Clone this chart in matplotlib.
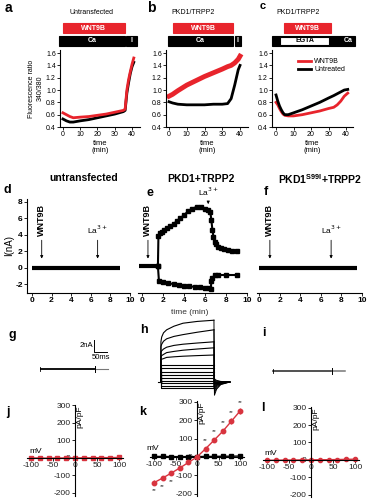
import matplotlib
matplotlib.use("Agg")
import matplotlib.pyplot as plt
from matplotlib.patches import Rectangle
from matplotlib.transforms import blended_transform_factory

plt.rcParams['font.family'] = ['Liberation Sans', 'DejaVu Sans']
plt.rcParams['axes.unicode_minus'] = False

# ---- data: fluorescence ratio traces (a-c) ----
a_t = [0, 2, 4, 6, 10, 15, 20, 25, 30, 35, 36, 37, 38, 39, 40, 41]
a_ctrl = [0.53, 0.5, 0.48, 0.48, 0.5, 0.52, 0.55, 0.58, 0.61, 0.65, 0.67, 0.95, 1.12, 1.27, 1.38, 1.45]
a_wnt = [0.63, 0.6, 0.57, 0.55, 0.56, 0.57, 0.59, 0.61, 0.64, 0.67, 0.69, 1.0, 1.17, 1.3, 1.42, 1.52]

b_t = [0, 2, 5, 10, 15, 20, 25, 30, 33, 35, 37, 39, 40]
b_wnt = [0.9, 0.93, 0.99, 1.08, 1.15, 1.22, 1.28, 1.34, 1.38, 1.4, 1.44, 1.5, 1.55]
b_ctrl = [0.81, 0.79, 0.77, 0.76, 0.76, 0.76, 0.77, 0.77, 0.78, 0.86, 1.08, 1.33, 1.4]

c_t = [0, 1, 2, 3, 4, 5, 7, 10, 15, 20, 25, 30, 33, 35, 37, 39, 41]
c_ctrl = [0.92, 0.82, 0.74, 0.68, 0.63, 0.6, 0.6, 0.63, 0.68, 0.74, 0.8, 0.87, 0.91, 0.94, 0.97, 1.0, 1.01]
c_wnt = [0.8, 0.76, 0.7, 0.65, 0.61, 0.59, 0.58, 0.58, 0.6, 0.63, 0.66, 0.7, 0.72, 0.76, 0.82, 0.9, 0.95]

ratio_ticks = [0.4, 0.6, 0.8, 1.0, 1.2, 1.4, 1.6]
min_ticks = [0, 10, 20, 30, 40]

# ---- data: whole-cell current vs time (d-f) ----
d_t = [0, 9]
d_i = [0, 0]
f_t = [0, 9.5]
f_i = [0, 0]
e_base_t = [-0.3, 1.5]
e_base_i = [0.2, 0.2]
e_up_t = [1.5, 1.55, 1.7, 1.9, 2.1, 2.4, 2.7, 3.0, 3.3, 3.6, 4.0, 4.4, 4.8, 5.2, 5.6, 6.0,
          6.3, 6.5, 6.6, 6.7, 6.8, 6.9, 7.0, 7.2, 7.5, 7.8, 8.2, 8.6, 9.0]
e_up_i = [0.2, 3.9, 4.2, 4.4, 4.6, 4.8, 5.1, 5.3, 5.7, 6.0, 6.4, 6.9, 7.2, 7.4, 7.4, 7.2,
          7.0, 6.8, 5.8, 4.6, 3.8, 3.2, 2.9, 2.6, 2.4, 2.25, 2.15, 2.1, 2.1]
e_lo_t = [1.5, 1.6, 2.0, 2.5, 3.0, 3.5, 4.0, 4.5, 5.0, 5.5, 6.0, 6.4, 6.55, 6.6, 6.7, 6.9, 7.2, 8.0, 9.0]
e_lo_i = [0.2, -1.6, -1.75, -1.85, -1.95, -2.05, -2.15, -2.2, -2.3, -2.35, -2.4, -2.45, -2.5,
          -1.6, -1.2, -0.9, -0.85, -0.85, -0.85]
wnt_time = {'d': 1.0, 'e': 0.55, 'f': 1.05}
la_time = {'d': 6.7, 'e': 6.3, 'f': 7.0}
nA_ticks = [-2, 0, 2, 4, 6, 8]
t_ticks = [0, 2, 4, 6, 8, 10]

# ---- data: raw current traces (g-i), ms / nA ----
g_end, g_tick, i_end, i_tick = 262, 211, 277, 227
h_t = [0, 3, 10, 22, 50, 85, 140, 204]
h_curved = [
    [7.7, 8.5, 9.2, 9.7, 10.3, 10.8, 11.1, 11.3],
    [6.9, 7.3, 7.8, 8.2, 8.6, 8.9, 9.3, 9.7],
    [6.0, 6.2, 6.5, 6.8, 7.1, 7.3, 7.5, 7.7],
    [5.2, 5.4, 5.6, 5.9, 6.1, 6.3, 6.5, 6.7],
    [4.7, 4.8, 4.9, 5.1, 5.2, 5.3, 5.4, 5.5],
]
h_flat = [3.8, 3.3, 2.7, 2.2, 1.7, 1.2, 0.8, 0.3, 0.0]
h_hold = 1.0
h_tail_start = [-1.2, -0.8, -0.4, -0.1, 0.1, 0.3, 0.5, 0.6, 0.7, 0.8, 0.9, 1.1, 1.3, 1.5]
tail_t = [206, 214, 230, 265]
tail_frac = [1.0, 0.55, 0.2, 0.0]

# ---- data: I-V curves (j-l) ----
iv_v = [-100, -80, -60, -40, -20, 0, 20, 40, 60, 80, 100]
j_ctrl = [0, 0, -1, 0, 0, 0, 1, 1, 2, 2, 3]
k_wnt = [-140, -115, -88, -60, -30, 0, 45, 92, 140, 195, 250]
k_err = [15, 12, 10, 8, 6, 3, 8, 10, 12, 15, 18]
k_ctrl = [3, 3, 2, 2, 2, 2, 3, 3, 4, 4, 5]
l_mut = [-2, -2, -1, -1, 0, 0, 1, 1, 2, 3, 4]
k_star_v = [-100, -80, -60, 20, 40, 60, 80, 100]

W, H = 369, 500
fig = plt.figure(figsize=(W / 100, H / 100), dpi=100)
RED = '#e8242c'
IVRED = '#d8343f'


def px_axes(l, t, r, b):
    return fig.add_axes([l / W, 1 - b / H, (r - l) / W, (b - t) / H])


def ftext(x, y, s, **kw):
    fig.text(x / W, 1 - y / H, s, **kw)


def style_ax(ax, fs):
    ax.spines['top'].set_visible(False)
    ax.spines['right'].set_visible(False)
    for s in ax.spines.values():
        s.set_linewidth(0.8)
    ax.tick_params(labelsize=fs, length=2, width=0.6, pad=1)


def bar(ax, x0, x1, top, bot, fc, ec=None, label='', tc='white'):
    tr = blended_transform_factory(ax.transData, fig.transFigure)
    ax.add_patch(Rectangle((x0, 1 - bot / H), x1 - x0, (bot - top) / H, transform=tr,
                           facecolor=fc, edgecolor=ec or fc, linewidth=0.8, clip_on=False))
    if label:
        ax.text((x0 + x1) / 2, 1 - (top + bot) / 2 / H, label, transform=tr, ha='center',
                va='center', color=tc, fontsize=5, fontweight='bold')


# ---------- row 1: a, b, c ----------
def ratio_panel(l, r, x0, x1):
    ax = px_axes(l, 50, r, 127)
    ax.set_xlim(x0, x1)
    ax.set_ylim(0.4, 1.65)
    style_ax(ax, 5)
    ax.set_yticks(ratio_ticks)
    ax.set_yticklabels(['%.1f' % v for v in ratio_ticks])
    ax.set_xticks(min_ticks)
    ax.set_xlabel('time\n(min)', fontsize=5.5, labelpad=1, linespacing=1.1)
    return ax


axa = ratio_panel(60, 140, -1.7, 44.6)
axa.plot(a_t, a_ctrl, color='k', lw=2)
axa.plot(a_t, a_wnt, color=RED, lw=2)
axa.set_ylabel('Fluorescence ratio\n340/380', fontsize=5, labelpad=2, linespacing=1.3)
bar(axa, 0, 35.8, 23, 33, RED, label='WNT9B')
bar(axa, -2.3, 35.8, 36, 46, 'k', label='Ca')
bar(axa, 36.4, 42.8, 36, 46, 'k', label='I')

axb = ratio_panel(166, 248, -1.7, 44.5)
axb.plot(b_t, b_wnt, color=RED, lw=3.5)
axb.plot(b_t, b_ctrl, color='k', lw=2)
bar(axb, 2.3, 36, 23, 33, RED, label='WNT9B')
bar(axb, -0.7, 36, 36, 46, 'k', label='Ca')
bar(axb, 37, 40.5, 36, 46, 'k', label='I')

axc = ratio_panel(272, 353, -2.3, 44)
axc.plot(c_t, c_wnt, color=RED, lw=2, label='WNT9B')
axc.plot(c_t, c_ctrl, color='k', lw=2, label='Untreated')
axc.legend(frameon=False, fontsize=5, handlelength=1.8, handletextpad=0.5,
           labelspacing=0.2, loc='upper left', bbox_to_anchor=(0.27, 0.95), borderpad=0.1)
bar(axc, 4.6, 31.4, 23, 33, RED, label='WNT9B')
bar(axc, -2.3, 45, 36, 46, 'k')
bar(axc, 2.3, 30.3, 37.5, 44.5, 'white', ec='k', label='EGTA', tc='k')
bar(axc, 38, 44, 37.5, 44.5, 'k', label='Ca')

ftext(92, 13, 'Untransfected', fontsize=5, ha='center', va='center')
ftext(193, 13, 'PKD1/TRPP2', fontsize=5, ha='center', va='center')
ftext(298, 13, 'PKD1/TRPP2', fontsize=5, ha='center', va='center')
ftext(8, 8, 'a', fontsize=10, fontweight='bold', ha='center', va='center')
ftext(151, 8, 'b', fontsize=10, fontweight='bold', ha='center', va='center')
ftext(263, 6, 'c', fontsize=8, fontweight='bold', ha='center', va='center')


# ---------- row 2: d, e, f ----------
def current_panel(l, r, x0, key, show_y):
    ax = px_axes(l, 199, r, 293)
    ax.set_xlim(x0, 10)
    ax.set_ylim(-3.03, 8.36)
    style_ax(ax, 6)
    ax.set_xticks(t_ticks)
    if show_y:
        ax.set_yticks(nA_ticks)
        ax.set_ylabel('I(nA)', fontsize=7, labelpad=1)
    else:
        ax.spines['left'].set_visible(False)
        ax.set_yticks([])
    for lab in ax.get_xticklabels() + ax.get_yticklabels():
        lab.set_fontweight('bold')
    tw = wnt_time[key]
    ax.annotate('', xy=(tw, 0.8), xytext=(tw, 3.7),
                arrowprops=dict(arrowstyle='-|>', color='k', lw=0.6, mutation_scale=4))
    ax.text(tw, 3.9, 'WNT9B', rotation=90, ha='center', va='bottom', fontsize=6.5,
            fontweight='bold')
    return ax


axd = current_panel(27, 130, -0.5, 'd', True)
axd.plot(d_t, d_i, color='k', lw=3, solid_capstyle='butt')
axd.annotate('', xy=(la_time['d'], 0.8), xytext=(la_time['d'], 3.7),
             arrowprops=dict(arrowstyle='-|>', color='k', lw=0.6, mutation_scale=4))
axd.text(la_time['d'], 3.9, 'La$^{3+}$', ha='center', va='bottom', fontsize=6)

axe = current_panel(138, 247, -0.4, 'e', False)
axe.plot(e_base_t, e_base_i, color='k', lw=3, solid_capstyle='butt')
axe.plot(e_up_t, e_up_i, color='k', lw=1.5, marker='s', ms=2.5)
axe.plot(e_lo_t, e_lo_i, color='k', lw=1.5, marker='s', ms=2.5)
axe.annotate('', xy=(la_time['e'], 7.4), xytext=(la_time['e'], 8.4),
             arrowprops=dict(arrowstyle='-|>', color='k', lw=0.6, mutation_scale=4),
             annotation_clip=False)
axe.text(la_time['e'], 8.5, 'La$^{3+}$', ha='center', va='bottom', fontsize=6, clip_on=False)

axf = current_panel(257, 362, -0.2, 'f', False)
axf.plot(f_t, f_i, color='k', lw=3, solid_capstyle='butt')
axf.annotate('', xy=(la_time['f'], 0.8), xytext=(la_time['f'], 3.7),
             arrowprops=dict(arrowstyle='-|>', color='k', lw=0.6, mutation_scale=4))
axf.text(la_time['f'], 3.9, 'La$^{3+}$', ha='center', va='bottom', fontsize=6)

ftext(190, 313, 'time (min)', fontsize=6, ha='center', va='center', color='#333333')
ftext(84, 178, 'untransfected', fontsize=7.5, fontweight='bold', ha='center', va='center')
ftext(201, 179, 'PKD1+TRPP2', fontsize=7.5, fontweight='bold', ha='center', va='center')
ftext(320, 179, 'PKD1$^{\\mathregular{S99I}}$+TRPP2', fontsize=7.5, fontweight='bold',
      ha='center', va='center')
ftext(7, 190, 'd', fontsize=9, fontweight='bold', ha='center', va='center')
ftext(150, 193, 'e', fontsize=9, fontweight='bold', ha='center', va='center')
ftext(266, 192, 'f', fontsize=9, fontweight='bold', ha='center', va='center')

# ---------- row 3: g, h, i ----------
axg = px_axes(40, 330, 110, 380)
axg.set_xlim(0, 269)
axg.set_ylim(-1.83, 6.5)
axg.axis('off')
axg.plot([0, g_tick], [0, 0], color='k', lw=1.3)
axg.plot([g_tick, g_end], [0, 0], color='#777777', lw=0.8)
axg.plot([0, 0], [-0.35, 0.35], color='k', lw=0.6)
axg.plot([g_tick, g_tick], [-0.5, 0.5], color='k', lw=0.7)
axg.plot([208, 208, 258], [4.8, 2.8, 2.8], color='k', lw=0.7)
axg.text(203, 4.0, '2nA', fontsize=5.5, ha='right', va='center')
axg.text(235, 1.9, '50ms', fontsize=5.5, ha='center', va='center')

axh = px_axes(150, 315, 235, 400)
axh.set_xlim(-42, 285)
axh.set_ylim(-2, 12.17)
axh.axis('off')
levels = []
for tr in h_curved:
    axh.plot([0] + h_t, [h_hold] + tr, color='k', lw=0.8)
    levels.append(tr[-1])
for lv in h_flat:
    axh.plot([0, 0, h_t[-1]], [h_hold, lv, lv], color='k', lw=0.8)
    levels.append(lv)
for lv, ts in zip(levels, h_tail_start):
    vals = [h_hold + (ts - h_hold) * f for f in tail_frac]
    axh.plot([h_t[-1]] + tail_t, [lv] + vals, color='k', lw=0.7)
axh.plot([-12, 0], [h_hold, h_hold], color='k', lw=0.8)

axi = px_axes(265, 355, 350, 385)
axi.set_xlim(-31, 296)
axi.set_ylim(-2.33, 2.67)
axi.axis('off')
axi.plot([0, i_tick], [0, 0], color='#222222', lw=1.1)
axi.plot([i_tick, i_end], [0, 0], color='#777777', lw=1.1)
axi.plot([0, 0], [-0.35, 0.35], color='k', lw=0.6)
axi.plot([i_tick, i_tick], [-0.5, 0.5], color='k', lw=0.7)

ftext(12, 335, 'g', fontsize=9, fontweight='bold', ha='center', va='center')
ftext(144, 330, 'h', fontsize=9, fontweight='bold', ha='center', va='center')
ftext(264, 333, 'i', fontsize=9, fontweight='bold', ha='center', va='center')


# ---------- row 4: j, k, l ----------
def iv_axes(l, r, t, b, ylo, mv_xy):
    ax = px_axes(l, t, r, b)
    ax.set_xlim(-110, 110)
    ax.set_ylim(ylo, 305)
    ax.spines['top'].set_visible(False)
    ax.spines['right'].set_visible(False)
    ax.spines['left'].set_position(('data', 0))
    ax.spines['bottom'].set_position(('data', 0))
    for s in ax.spines.values():
        s.set_linewidth(0.8)
    ax.set_xticks([-100, -50, 0, 50, 100])
    ax.set_yticks([-200, -100, 0, 100, 200, 300])
    ax.tick_params(labelsize=6, length=2, width=0.6, pad=1, labelcolor='#222222')
    ax.text(4, 300, 'pA/pF', rotation=90, fontsize=6, ha='left', va='top')
    ax.text(mv_xy[0], mv_xy[1], 'mV', fontsize=6, ha='center', va='bottom')
    return ax


axj = iv_axes(26.6, 123.4, 404.6, 495.6, -215, (-90, 15))
axj.plot(iv_v, j_ctrl, color=IVRED, lw=1, marker='s', ms=3, clip_on=False)

axk = iv_axes(149.7, 244.3, 401, 495.5, -210, (-103, 25))
axk.plot(iv_v, k_ctrl, color='k', lw=1, marker='s', ms=3, clip_on=False, zorder=3)
axk.errorbar(iv_v, k_wnt, yerr=k_err, color=IVRED, lw=1, marker='o', ms=3.2,
             elinewidth=0.6, capsize=0, clip_on=False, zorder=4)
for v in k_star_v:
    y = k_wnt[iv_v.index(v)]
    ys = y + 45 if v > 0 else y - 45
    axk.text(v, ys, '**', fontsize=4.5, ha='center', va='center', color='#333333')

axl = iv_axes(262.6, 359.4, 406.7, 496.5, -210, (-91, 15))
axl.plot(iv_v, l_mut, color=IVRED, lw=1, marker='o', ms=3, clip_on=False)

ftext(8, 412, 'j', fontsize=9, fontweight='bold', ha='center', va='center')
ftext(143, 412, 'k', fontsize=9, fontweight='bold', ha='center', va='center')
ftext(263, 408, 'l', fontsize=9, fontweight='bold', ha='center', va='center')

fig.savefig('out.png', dpi=100)
